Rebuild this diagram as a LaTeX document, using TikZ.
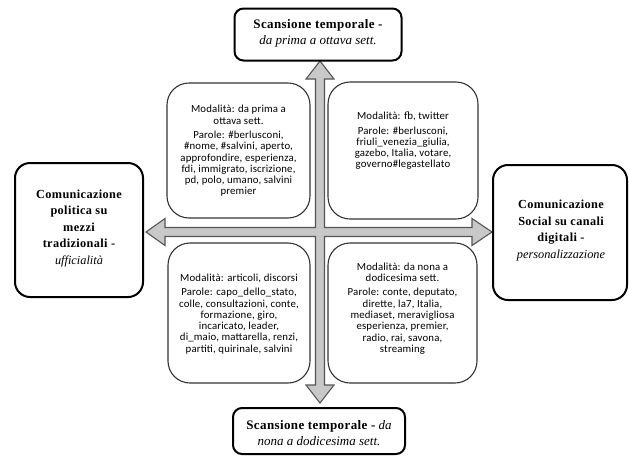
\documentclass[tikz,border=0pt]{standalone}
\usepackage{fontspec}
\setmainfont{Liberation Serif}
\newfontfamily\quadfont[LetterSpace=1.5]{Carlito}
\newfontfamily\titlebf[LetterSpace=3]{Liberation Serif}
\definecolor{arrowfill}{HTML}{C8C8C8}
\definecolor{arrowline}{HTML}{555555}
\definecolor{quadline}{HTML}{333333}
\newcommand{\tb}[1]{{\titlebf\bfseries #1}}
\begin{document}
\begin{tikzpicture}[x=1pt,y=-1pt,
  titlebox/.style={draw=black,line width=2pt,fill=white,inner sep=0pt},
  quadbox/.style={draw=quadline,line width=1.1pt,fill=white,rounded corners=22pt,inner sep=0pt},
  quadtext/.style={align=center,inner sep=0pt,font=\quadfont\fontsize{10.8}{11.3}\selectfont},
  titletext/.style={align=center,inner sep=0pt,font=\fontsize{13}{16}\selectfont},
  sidetext/.style={align=center,inner sep=0pt,font=\fontsize{12.3}{16.5}\selectfont}
]
\useasboundingbox (0,0) rectangle (629,456);
% four-way arrow
\coordinate (c) at (320,232);
\draw[fill=arrowfill,draw=arrowline,line width=1.1pt,line join=miter]
  (315.5,227.5) -- (165,227.5) -- (165,218.5) -- (146,232) -- (165,245.5) -- (165,236.5)
  -- (315.5,236.5) -- (315.5,385) -- (306,385) -- (320,403) -- (334,385) -- (324.5,385)
  -- (324.5,236.5) -- (472,236.5) -- (472,245.5) -- (492,232) -- (472,218.5) -- (472,227.5)
  -- (324.5,227.5) -- (324.5,79) -- (334,79) -- (320,61) -- (306,79) -- (315.5,79) -- cycle;
% quadrant boxes
\node[quadbox,minimum width=143pt,minimum height=135pt] (ulbox) at (238.5,150.5) {};
\node[quadbox,minimum width=150pt,minimum height=137pt] (urbox) at (403,150.5) {};
\node[quadbox,minimum width=142pt,minimum height=140pt] (llbox) at (239,313) {};
\node[quadbox,minimum width=149pt,minimum height=140pt] (lrbox) at (402.5,313) {};
\node[quadtext] (ultext) at (238.5,151) {Modalità: da prima a\\ ottava sett.\\[3pt]
Parole: \#berlusconi,\\ \#nome, \#salvini, aperto,\\ approfondire, esperienza,\\ fdi, immigrato, iscrizione,\\ pd, polo, umano, salvini\\ premier};
\node[quadtext] (urtext) at (403,141) {Modalità: fb, twitter\\[3pt]
Parole: \#berlusconi,\\ friuli\_venezia\_giulia,\\ gazebo, Italia, votare,\\ governo\#legastellato};
\node[quadtext] (lltext) at (239,314) {Modalità: articoli, discorsi\\[3pt]
Parole: capo\_dello\_stato,\\ colle, consultazioni, conte,\\ formazione, giro,\\ incaricato, leader,\\ di\_maio, mattarella, renzi,\\ partiti, quirinale, salvini};
\node[quadtext] (lrtext) at (402.5,308.5) {Modalità: da nona a\\ dodicesima sett.\\[3pt]
Parole: conte, deputato,\\ dirette, la7, Italia,\\ mediaset, meravigliosa\\ esperienza, premier,\\ radio, rai, savona,\\ streaming};
% title boxes
\node[titlebox,rounded corners=9pt,minimum width=167pt,minimum height=52pt] (top) at (318,34.5) {};
\node[titletext] (toptext) at (318,33) {\tb{Scansione temporale -}\\ \textit{da prima a ottava sett.}};
\node[titlebox,rounded corners=9pt,minimum width=172pt,minimum height=46pt] (bottom) at (319,431) {};
\node[titletext] (bottomtext) at (319,433) {\tb{Scansione temporale -} \textit{da}\\ \textit{nona a dodicesima sett.}};
\node[titlebox,rounded corners=15pt,minimum width=128pt,minimum height=134pt] (left) at (79,230) {};
\node[sidetext] (lefttext) at (79,228.5) {\tb{Comunicazione}\\ \tb{politica su}\\ \tb{mezzi}\\ \tb{tradizionali -}\\ \textit{ufficialità}};
\node[titlebox,rounded corners=15pt,minimum width=134pt,minimum height=135pt] (right) at (560,232.5) {};
\node[sidetext] (righttext) at (561,230.5) {\tb{Comunicazione}\\ \tb{Social su canali}\\ \tb{digitali -}\\ \textit{personalizzazione}};
\end{tikzpicture}
\end{document}
